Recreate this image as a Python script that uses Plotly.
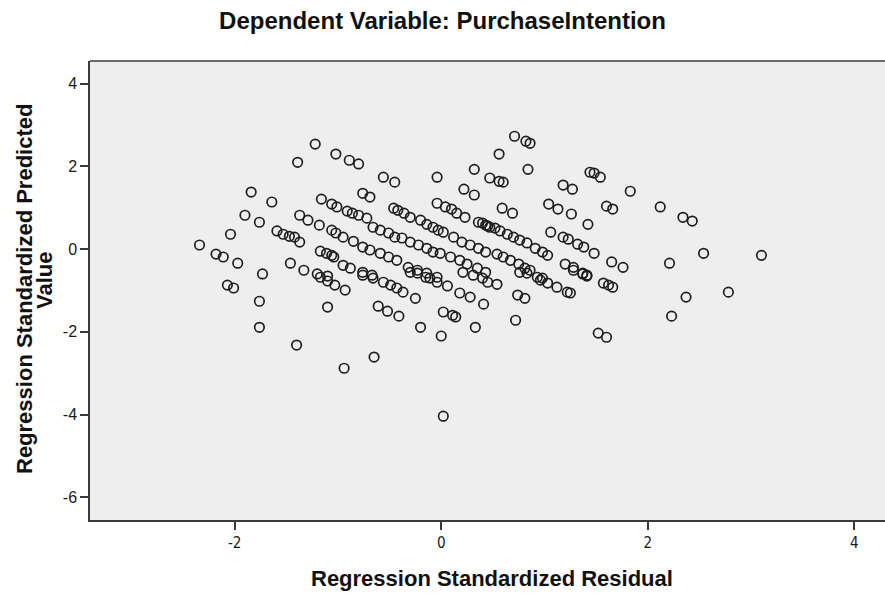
import plotly.graph_objects as go

# Regression Standardized Residual (x) and Regression Standardized Predicted Value (y)
residual = [
    -1.22, -1.02, -0.89, -0.80, -1.39, -0.56, -0.45, -0.76, -0.69, -1.84,
    -1.64, -1.16, -1.06, -1.01, -1.90, -1.76, -1.37, -1.29, -1.18, -1.06,
    -1.59, -1.53, -1.47, -1.42, -1.37, -2.04, -2.34, -2.18, -2.11, -1.97,
    -1.46, -1.33, -1.20, -1.10, -1.73, -1.17, -1.11, -1.06, -1.04, -2.07,
    -2.01, -1.76, -1.76, -1.40, -1.10, -1.17, -1.10, -1.03, -0.93, -0.94,
    -0.91, -0.86, -0.80, -0.72, -1.02, -0.95, -0.85, -0.76, -0.69, -0.59,
    -0.51, -0.43, -0.95, -0.88, -0.76, -0.67, -0.46, -0.42, -0.36, -0.30,
    -0.66, -0.59, -0.51, -0.45, -0.38, -0.30, -0.22, -0.14, -0.08, -0.20,
    -0.14, -0.08, -0.03, 0.02, -0.04, 0.04, 0.10, 0.15, 0.23, 0.36,
    0.43, 0.47, 0.12, 0.20, 0.28, 0.36, 0.43, -0.32, -0.23, -0.14,
    -0.04, -0.01, 0.09, 0.18, 0.25, 0.35, 0.43, -0.04, 0.32, 0.47,
    0.22, 0.32, -0.76, -0.66, -0.56, -0.49, -0.43, -0.37, -0.25, -0.61,
    -0.52, -0.41, -0.20, -0.65, 0.02, 0.11, 0.14, 0.00, 0.33, 0.18,
    0.28, 0.41, 0.02, -0.30, -0.23, -0.15, -0.11, -0.04, 0.06, 0.21,
    0.31, 0.40, 0.45, 0.54, 0.74, 0.81, 0.72, 0.76, 0.83, 0.96,
    1.03, 1.12, 1.22, 1.25, 1.28, 1.37, 1.41, 1.57, 1.62, 1.66,
    1.52, 1.60, 2.37, 2.78, 2.23, 1.83, 2.12, 2.34, 2.43, 2.54,
    2.21, 3.10, 0.71, 0.82, 0.86, 0.56, 0.84, 0.56, 0.60, 1.44,
    1.48, 1.54, 1.18, 1.27, 0.59, 0.69, 1.04, 1.13, 1.26, 1.60,
    1.66, 1.42, 1.06, 1.18, 1.23, 1.32, 1.38, 1.48, 1.65, 1.76,
    1.20, 1.28, 1.37, 1.41, 0.40, 0.45, 0.52, 0.57, 0.64, 0.70,
    0.76, 0.83, 0.91, 0.98, 1.03, 0.54, 0.60, 0.67, 0.75, 0.81,
    0.86, 0.93, 0.98,
]
predicted = [
    2.54, 2.30, 2.15, 2.06, 2.10, 1.74, 1.62, 1.35, 1.26, 1.38,
    1.14, 1.21, 1.09, 1.02, 0.82, 0.65, 0.82, 0.70, 0.58, 0.46,
    0.44, 0.36, 0.31, 0.29, 0.17, 0.36, 0.10, -0.12, -0.19, -0.34,
    -0.34, -0.51, -0.60, -0.65, -0.60, -0.05, -0.10, -0.15, -0.19, -0.87,
    -0.94, -1.26, -1.89, -2.32, -1.40, -0.68, -0.77, -0.87, -0.99, -2.88,
    0.92, 0.87, 0.82, 0.75, 0.39, 0.29, 0.19, 0.05, -0.02, -0.10,
    -0.19, -0.27, -0.39, -0.46, -0.56, -0.63, 0.99, 0.94, 0.87, 0.77,
    0.53, 0.46, 0.39, 0.29, 0.27, 0.17, 0.10, 0.02, -0.07, 0.70,
    0.60, 0.53, 0.46, 0.41, 1.11, 1.02, 0.97, 0.87, 0.77, 0.65,
    0.58, 0.53, 0.29, 0.17, 0.10, 0.02, -0.07, -0.44, -0.51, -0.58,
    -0.68, -0.10, -0.19, -0.27, -0.36, -0.46, -0.56, 1.74, 1.93, 1.72,
    1.45, 1.31, -0.63, -0.70, -0.80, -0.87, -0.94, -1.04, -1.19, -1.38,
    -1.50, -1.62, -1.89, -2.61, -1.52, -1.60, -1.64, -2.10, -1.89, -1.06,
    -1.16, -1.33, -4.04, -0.56, -0.58, -0.68, -0.70, -0.80, -0.89, -0.56,
    -0.63, -0.70, -0.80, -0.85, -1.11, -1.19, -1.72, -0.56, -0.58, -0.75,
    -0.82, -0.92, -1.04, -1.06, -0.51, -0.60, -0.65, -0.82, -0.87, -0.92,
    -2.03, -2.13, -1.16, -1.04, -1.62, 1.40, 1.02, 0.77, 0.68, -0.10,
    -0.34, -0.15, 2.73, 2.61, 2.56, 2.30, 1.93, 1.64, 1.62, 1.86,
    1.84, 1.74, 1.55, 1.45, 0.99, 0.87, 1.09, 0.97, 0.85, 1.04,
    0.97, 0.60, 0.41, 0.29, 0.24, 0.12, 0.05, -0.10, -0.31, -0.44,
    -0.36, -0.44, -0.58, -0.63, 0.63, 0.56, 0.51, 0.44, 0.36, 0.29,
    0.22, 0.15, 0.02, -0.07, -0.15, -0.12, -0.19, -0.27, -0.36, -0.46,
    -0.51, -0.68, -0.70,
]

x_ticks = [-2, 0, 2, 4]
y_ticks = [-6, -4, -2, 0, 2, 4]

chart_title = "Dependent Variable: PurchaseIntention"
x_title = "Regression Standardized Residual"
y_title_lines = ["Regression Standardized Predicted", "Value"]

FONT = "Liberation Sans, Arial, sans-serif"
NARROW = "Liberation Sans Narrow, DejaVu Sans Condensed, Liberation Sans, Arial"
FRAME = "#3a3a3a"

fig = go.Figure(
    go.Scatter(
        x=residual,
        y=predicted,
        mode="markers",
        marker=dict(symbol="circle-open", size=9.5, color="#1e1e1e",
                    line=dict(width=1.7, color="#1e1e1e")),
        hoverinfo="x+y",
    )
)

W, H = 885, 594
L, R, T, B = 90, 0, 61, 74
pw, ph = W - L - R, H - T - B

fig.update_layout(
    width=W,
    height=H,
    margin=dict(l=L, r=R, t=T, b=B),
    paper_bgcolor="white",
    plot_bgcolor="#EEEEEE",
    showlegend=False,
    font=dict(family=FONT, color="#1a1a1a"),
    title=dict(
        text=chart_title,
        x=0.5, xref="container", xanchor="center",
        y=1 - 21 / H, yref="container", yanchor="middle",
        font=dict(family=FONT, size=24, weight="bold", color="#111111"),
    ),
)

fig.update_xaxes(
    range=[-3.40, -3.40 + pw / 103.3],
    tickvals=x_ticks,
    ticktext=[str(v) for v in x_ticks],
    ticks="outside", ticklen=8, tickwidth=1.5, tickcolor=FRAME,
    tickfont=dict(family=NARROW, size=15, color="#1a1a1a"),
    showline=True, linecolor=FRAME, linewidth=1.5,
    showgrid=False, zeroline=False,
)
fig.update_yaxes(
    range=[-6.55, 4.55],
    tickvals=y_ticks,
    ticktext=[str(v) for v in y_ticks],
    ticks="outside", ticklen=8, tickwidth=1.5, tickcolor=FRAME,
    tickfont=dict(family=FONT, size=16, color="#1a1a1a"),
    showline=True, linecolor=FRAME, linewidth=1.5,
    showgrid=False, zeroline=False,
)

# top border of plot frame
fig.add_shape(type="line", xref="paper", yref="paper", x0=0, x1=1, y0=1, y1=1,
              line=dict(color=FRAME, width=1.5))

# axis titles
fig.add_annotation(
    text=x_title, xref="paper", yref="paper",
    x=(492 - L) / pw, y=-(578 - (T + ph)) / ph,
    xanchor="center", yanchor="middle", showarrow=False,
    font=dict(family=FONT, size=22, weight="bold", color="#111111"),
)
for txt, px, py in zip(y_title_lines, [24, 44], [289, 281]):
    fig.add_annotation(
        text=txt, xref="paper", yref="paper",
        x=(px - L) / pw, y=((T + ph) - py) / ph,
        xanchor="center", yanchor="middle", showarrow=False, textangle=-90,
        font=dict(family=FONT, size=22, weight="bold", color="#111111"),
    )

fig.write_html(
    "out.html",
    config={"displayModeBar": False},
    post_script="document.body.style.margin='0';document.body.style.overflow='hidden';",
)
